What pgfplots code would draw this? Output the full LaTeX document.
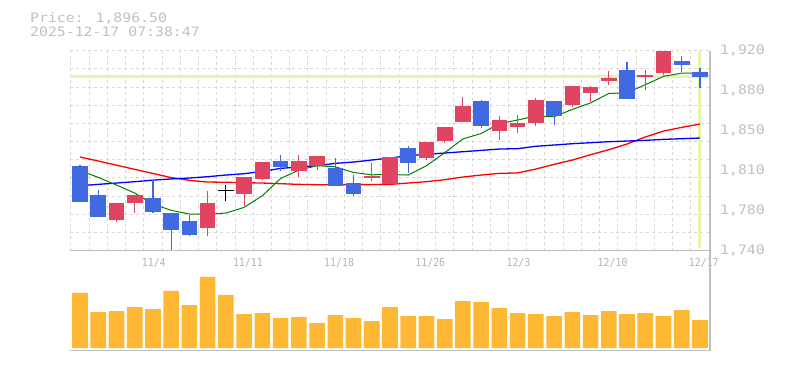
\documentclass[border=0pt]{standalone}
\usepackage{pgfplots}
\pgfplotsset{compat=1.18}
\usepackage{pgfplotstable}
\usepackage{fontspec}
\newfontfamily\monoA[FakeStretch=1.14]{DejaVu Sans Mono}
\newfontfamily\monoB[FakeStretch=0.9]{DejaVu Sans Mono}
\definecolor{cred}{RGB}{224,68,96}
\definecolor{cblue}{RGB}{65,105,225}
\definecolor{cvol}{RGB}{255,184,51}
\definecolor{cyel}{RGB}{230,245,170}
\definecolor{cgrid}{RGB}{216,216,216}
\definecolor{caxis}{RGB}{192,192,192}
\definecolor{ctext}{RGB}{192,192,192}
\definecolor{cdate}{RGB}{180,180,180}

\pgfplotstableread{
i o h l c
2 1767.9 1783.2 1765.5 1783.2
3 1782.6 1789.8 1774.2 1789.8
7 1760.7 1794.0 1753.5 1783.2
9 1790.7 1806.0 1780.5 1806.0
10 1804.8 1819.8 1804.0 1819.8
12 1811.4 1826.4 1806.0 1821.0
13 1815.9 1825.5 1812.3 1825.5
16 1806.2 1818.9 1802.4 1807.1
17 1800.3 1824.6 1800.3 1824.6
19 1823.7 1838.1 1821.3 1838.1
20 1838.4 1851.6 1836.6 1851.6
21 1855.5 1878.6 1855.5 1870.5
23 1847.4 1861.5 1839.3 1857.9
24 1851.0 1862.4 1845.6 1854.9
25 1854.6 1877.4 1851.9 1875.9
27 1870.8 1888.5 1869.0 1888.5
28 1881.6 1888.5 1873.8 1887.6
29 1893.0 1901.4 1889.4 1895.7
31 1896.0 1902.9 1884.9 1898.4
32 1899.9 1920.0 1897.8 1920.0
}\upT

\pgfplotstableread{
i o h l c
0 1816.5 1817.2 1784.1 1784.1
1 1790.4 1794.9 1770.0 1770.0
4 1787.7 1803.9 1773.6 1775.1
5 1774.2 1774.2 1740.3 1758.9
6 1767.0 1772.4 1753.5 1754.4
11 1821.0 1826.4 1811.4 1815.6
14 1814.7 1823.7 1797.9 1797.9
15 1801.2 1808.4 1788.9 1791.3
18 1832.7 1834.5 1809.9 1818.6
22 1875.0 1875.9 1850.1 1851.9
26 1875.0 1875.0 1852.8 1860.9
30 1902.9 1909.5 1876.8 1876.8
33 1911.0 1915.5 1900.5 1906.8
34 1901.1 1904.4 1886.1 1896.5
}\downT

\pgfplotstableread{
i g r b
0 1812.0 1824.3 1798.5
1 1806.0 1820.7 1799.7
2 1799.1 1817.0 1800.9
3 1791.9 1813.2 1802.1
4 1782.0 1809.5 1803.5
5 1776.3 1805.8 1804.6
6 1773.0 1803.3 1805.4
7 1772.7 1801.8 1806.6
8 1773.9 1801.6 1808.1
9 1779.0 1801.2 1809.3
10 1789.5 1800.9 1811.4
11 1805.0 1800.3 1814.1
12 1812.5 1799.7 1815.3
13 1816.5 1799.4 1816.5
14 1815.5 1799.4 1818.6
15 1810.4 1799.4 1819.8
16 1808.3 1799.5 1821.6
17 1808.6 1799.7 1823.4
18 1808.1 1800.9 1825.5
19 1816.5 1802.1 1826.7
20 1828.2 1803.9 1827.9
21 1840.6 1806.3 1829.1
22 1845.5 1808.1 1830.3
23 1854.4 1809.6 1831.5
24 1857.6 1810.0 1831.8
25 1861.2 1813.5 1834.0
26 1860.5 1817.7 1835.1
27 1867.2 1821.6 1836.3
28 1873.0 1826.4 1837.2
29 1881.5 1830.9 1838.1
30 1882.2 1836.0 1838.7
31 1889.4 1842.3 1839.3
32 1896.9 1847.7 1840.2
33 1899.8 1851.0 1840.8
34 1899.8 1854.0 1841.4
}\maT

\pgfplotstableread{
i v
0 55.0
1 35.9
2 36.9
3 40.9
4 38.9
5 57.0
6 42.9
7 71.1
8 53.0
9 33.8
10 34.8
11 29.8
12 30.8
13 24.8
14 32.8
15 29.8
16 26.8
17 40.9
18 31.8
19 31.8
20 28.8
21 46.9
22 45.9
23 39.9
24 34.8
25 33.8
26 31.8
27 35.9
28 32.8
29 36.9
30 33.8
31 34.8
32 31.8
33 37.9
34 27.8
}\volT

\pgfplotsset{
  panel/.style={
    scale only axis, width=640pt,
    xmin=-0.55, xmax=34.55,
    axis line style={draw=none},
    major tick length=0pt, minor tick length=0pt,
    xmajorgrids=false, ymajorgrids=false,
    xminorgrids=true,
    minor xtick={-0.5,0.5,...,34.5},
    minor grid style={cgrid, dash pattern=on 3pt off 3pt, line width=1pt},
    after end axis/.code={\draw[caxis, line width=1.3pt] (rel axis cs:0,0) -- (rel axis cs:1,0) -- (rel axis cs:1,1);},
  },
  candle/.style={draw=none, mark=none, forget plot,
    error bars/.cd, y dir=both, y explicit, error mark=none,
    error bar style={draw=#1, line width=15.6pt, solid}},
  wick/.style={draw=none, mark=none, forget plot,
    error bars/.cd, y dir=plus, y explicit, error mark=none,
    error bar style={draw=#1, line width=1.1pt, solid}},
}

\begin{document}
\begin{tikzpicture}
\useasboundingbox (0pt,0pt) rectangle (785pt,370pt);

\node[anchor=base west, inner sep=0pt, text=ctext, font=\monoA\fontsize{13}{13}\selectfont] at (30pt,347.3pt) {Price: 1,896.50};
\node[anchor=base west, inner sep=0pt, text=ctext, font=\monoA\fontsize{13}{13}\selectfont] at (30pt,333.3pt) {2025-12-17 07:38:47};

% price panel
\begin{axis}[panel,
  at={(70pt,119.3pt)}, anchor=south west, height=200pt,
  ymin=1740, ymax=1920,
  yminorgrids=true,
  minor ytick={1740,1756.3636,1772.7273,1789.0909,1805.4545,1821.8182,1838.1818,1854.5455,1870.9091,1887.2727,1903.6364,1920},
  ytick={1740,1776,1812,1848,1884,1920},
  yticklabels={{1,740},{1,780},{1,810},{1,850},{1,880},{1,920}},
  yticklabel pos=right,
  yticklabel style={font=\monoA\fontsize{13}{13}\selectfont, text=ctext, anchor=west, inner sep=0pt, xshift=10pt},
  xtick={4,9,14,19,24,29,34},
  xticklabels={11/4,11/11,11/18,11/26,12/3,12/10,12/17},
  xticklabel style={font=\monoB\fontsize{11}{11}\selectfont, text=cdate, anchor=north west, inner sep=0pt, xshift=-11.3pt, yshift=-7.6pt},
]
\addplot[cyel, line width=3pt, forget plot] coordinates {(-0.55,1896.5) (34.55,1896.5)};
\addplot[cyel, line width=3pt, forget plot] coordinates {(34,1920) (34,1742)};

\addplot[red, line width=1.3pt, forget plot] table[x=i, y=r] {\maT};
\addplot[blue, line width=1.3pt, forget plot] table[x=i, y=b] {\maT};
\addplot[green!50!black, line width=1pt, forget plot] table[x=i, y=g] {\maT};

\addplot[wick=cred] table[x=i, y=l, y error expr=\thisrow{h}-\thisrow{l}] {\upT};
\addplot[candle=cred] table[x=i, y expr=(\thisrow{o}+\thisrow{c})/2, y error expr=abs(\thisrow{c}-\thisrow{o})/2] {\upT};
\addplot[wick=cblue] table[x=i, y=l, y error expr=\thisrow{h}-\thisrow{l}] {\downT};
\addplot[candle=cblue] table[x=i, y expr=(\thisrow{o}+\thisrow{c})/2, y error expr=abs(\thisrow{c}-\thisrow{o})/2] {\downT};

\addplot[black, line width=1.1pt, forget plot] coordinates {(8,1784.4) (8,1798.8)};
\addplot[black, line width=1.1pt, forget plot] coordinates {(7.57,1794.3) (8.43,1794.3)};
\end{axis}

% volume panel
\begin{axis}[panel,
  at={(70pt,19.7pt)}, anchor=south west, height=99.6pt,
  ymin=-2.3, ymax=97.3,
  xtick=\empty, ytick=\empty,
]
\addplot[ybar, bar width=15.6pt, fill=cvol, draw=none] table[x=i, y=v] {\volT};
\end{axis}
\end{tikzpicture}
\end{document}
